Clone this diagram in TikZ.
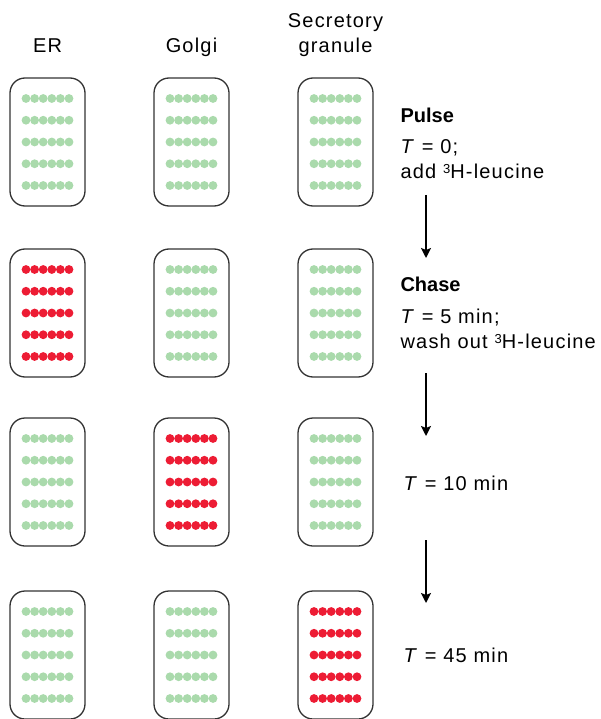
\documentclass[tikz,border=0pt]{standalone}
\usepackage{fontspec}
\setmainfont[LetterSpace=6,BoldFeatures={LetterSpace=0}]{Liberation Sans}
\usetikzlibrary{arrows.meta}
\usepackage{xcolor}
\definecolor{coldgreen}{RGB}{170,218,172}
\definecolor{hotred}{RGB}{237,28,52}
\definecolor{wallgray}{RGB}{51,51,51}
\newcommand\supthree{\raisebox{5pt}{\fontsize{13}{13}\selectfont 3}}

\begin{document}
\begin{tikzpicture}[x=1pt,y=-1pt,
  cell/.style={draw=wallgray,line width=1.3pt,rounded corners=15pt,
    minimum width=75pt,minimum height=128pt,inner sep=0pt},
  lbl/.style={anchor=base,font=\fontsize{20}{22}\selectfont},
  note/.style={anchor=base west,font=\fontsize{20}{22}\selectfont},
  head/.style={note,font=\bfseries\fontsize{20}{22}\selectfont},
  timearrow/.style={line width=1.8pt,-{Stealth[length=10pt,width=10pt,inset=2pt]}}]
  \useasboundingbox (0,0) rectangle (601,719);
  \node[lbl] (er) at (47.5,53){ER};
  \node[lbl] (golgi) at (191.5,53){Golgi};
  \node[lbl] (secr) at (335.5,28){Secretory};
  \node[lbl] (gran) at (335.5,53){granule};
  % rows of compartments, labelled column per row in red
  \foreach \r/\t/\h in {1/78/0,2/249/1,3/418/2,4/591/3}{
    \foreach \c/\x in {1/10,2/154,3/298}{
      \ifnum\c=\h \def\dotcolor{hotred}\else\def\dotcolor{coldgreen}\fi
      \node[cell] (box\r\c) at (\x+37.5,\t+64){};
      \foreach \j in {0,...,4}
        \foreach \i in {0,...,5}
          \fill[\dotcolor] (\x+16+\i*8.6,\t+20.5+\j*21.75) circle (4.4pt);
    }
  }
  \node[head] (pulse) at (397,123){Pulse};
  \node[note] (pulset) at (397,154){\textit{T} = 0;};
  \node[note] (pulseadd) at (397,179){add \supthree H-leucine};
  \node[head] (chase) at (397,291){Chase};
  \node[note] (chaset) at (397,323){\textit{T} = 5 min;};
  \node[note] (chasewash) at (397,348){wash out \supthree H-leucine};
  \node[note] (tten) at (400,490){\textit{T} = 10 min};
  \node[note] (tfortyfive) at (400,662){\textit{T} = 45 min};
  \coordinate (a1) at (426,195);
  \coordinate (b1) at (426,258);
  \coordinate (a2) at (426,373);
  \coordinate (b2) at (426,436);
  \coordinate (a3) at (426,540);
  \coordinate (b3) at (426,603);
  \draw[timearrow] (a1) -- (b1);
  \draw[timearrow] (a2) -- (b2);
  \draw[timearrow] (a3) -- (b3);
\end{tikzpicture}
\end{document}
